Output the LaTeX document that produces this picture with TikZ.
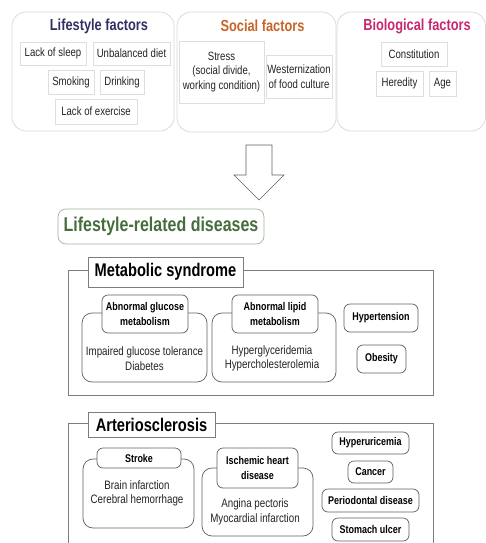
\documentclass[tikz,border=0pt]{standalone}
\usepackage{fontspec}
\setmainfont{Liberation Sans}[FakeStretch=0.8]
\definecolor{navyT}{RGB}{48,48,100}
\definecolor{orangeT}{RGB}{200,100,40}
\definecolor{magT}{RGB}{200,40,110}
\definecolor{greenT}{RGB}{70,110,60}
\definecolor{greenB}{RGB}{160,180,150}
\definecolor{panelgray}{RGB}{215,215,215}
\definecolor{boxgray}{RGB}{222,222,222}
\definecolor{framegray}{RGB}{125,125,125}
\definecolor{dgray}{RGB}{95,95,95}
\definecolor{txt}{RGB}{35,35,35}
\newcommand\fbody{\fontsize{12}{14.5}\selectfont}
\newcommand\fdis{\fontsize{12.2}{14.5}\selectfont}
\newcommand\fttl{\fontsize{16}{18}\selectfont\bfseries}
\newcommand\fbigt{\fontsize{20}{22}\selectfont\bfseries}
\newcommand\fsect{\fontsize{18.3}{20}\selectfont\bfseries}
\newcommand\fhd{\fontsize{11.2}{15}\selectfont\bfseries}
\tikzset{
  panel/.style={draw=panelgray, rounded corners=14pt, line width=0.7pt, inner sep=0pt},
  fbx/.style={draw=boxgray, line width=0.7pt, font=\fbody, text=txt, inner sep=0pt, align=center},
  ttl/.style={font=\fttl, inner sep=0pt},
  secbox/.style={draw=framegray, fill=white, line width=0.7pt, font=\fsect, inner sep=0pt},
  outerbx/.style={draw=dgray, rounded corners=10pt, line width=0.7pt, inner sep=0pt},
  hdbx/.style={draw=dgray, fill=white, rounded corners=6pt, line width=0.7pt, font=\fhd, inner sep=0pt, align=center},
  bodytxt/.style={font=\fdis, text=txt, align=center, inner sep=0pt},
  framel/.style={draw=framegray, line width=0.7pt}
}
\begin{document}
\begin{tikzpicture}[x=1pt,y=-1pt]
\useasboundingbox (0,0) rectangle (486,543);
% panels
\node[panel, minimum width=162, minimum height=119] (p1) at (93,71.5) {};
\node[panel, minimum width=159, minimum height=120] (p2) at (256.5,72) {};
\node[panel, minimum width=148.5, minimum height=119] (p3) at (411.25,71.5) {};
\node[ttl, text=navyT] (t1) at (99,26) {Lifestyle factors};
\node[ttl, text=orangeT] (t2) at (262.5,26) {Social factors};
\node[ttl, text=magT] (t3) at (417,26) {Biological factors};
% lifestyle items
\node[fbx, minimum width=66, minimum height=23] (sleep) at (53,53.5) {Lack of sleep};
\node[fbx, minimum width=77, minimum height=23] (diet) at (131.5,53.5) {Unbalanced diet};
\node[fbx, minimum width=46, minimum height=24] (smoke) at (71,82) {Smoking};
\node[fbx, minimum width=44, minimum height=24] (drink) at (122,82) {Drinking};
\node[fbx, minimum width=82, minimum height=25] (exer) at (96,111.5) {Lack of exercise};
% social items
\node[fbx, minimum width=85, minimum height=62] (stress) at (221.5,72) {Stress\\(social divide,\\working condition)};
\node[fbx, minimum width=66, minimum height=43] (west) at (299,76.5) {Westernization\\of food culture};
% biological items
\node[fbx, minimum width=66, minimum height=24] (const) at (414,54) {Constitution};
\node[fbx, minimum width=47, minimum height=25] (hered) at (399.5,83.5) {Heredity};
\node[fbx, minimum width=27, minimum height=25] (age) at (442.5,83.5) {Age};
% arrow
\draw[draw=dgray, line width=0.6pt, fill=white] (246,145) -- (272,145) -- (272,175) -- (284,175) -- (259,200) -- (234,175) -- (246,175) -- cycle;
% lifestyle-related diseases
\node[draw=greenB, rounded corners=8pt, line width=0.7pt, minimum width=206, minimum height=35, inner sep=0pt, font=\fbigt, text=greenT] (lrd) at (161,226.5) {Lifestyle-related diseases};
% metabolic syndrome
\draw[framel] (68,270) rectangle (433,395);
\node[secbox, minimum width=155, minimum height=30] (ms) at (165.5,272) {Metabolic syndrome};
\node[outerbx, minimum width=125, minimum height=69] (gluO) at (144.5,347.5) {};
\node[hdbx, minimum width=86, minimum height=38] (gluH) at (145,314) {Abnormal glucose\\metabolism};
\node[bodytxt] (gluT) at (144.5,358.5) {Impaired glucose tolerance\\Diabetes};
\node[outerbx, minimum width=124, minimum height=69] (lipO) at (274,347.5) {};
\node[hdbx, minimum width=86, minimum height=38] (lipH) at (275,314) {Abnormal lipid\\metabolism};
\node[bodytxt] (lipT) at (272,358.5) {Hyperglyceridemia\\Hypercholesterolemia};
\node[hdbx, minimum width=74, minimum height=28] (hyp) at (381,318) {Hypertension};
\node[hdbx, minimum width=49, minimum height=28] (obe) at (381.5,359) {Obesity};
% arteriosclerosis
\draw[framel] (68,543) -- (68,423) -- (433,423) -- (433,543);
\node[secbox, minimum width=127, minimum height=25] (as) at (151.5,424.5) {Arteriosclerosis};
\node[outerbx, minimum width=111, minimum height=69] (strO) at (138.5,493.5) {};
\node[hdbx, minimum width=84, minimum height=20] (strH) at (139,458) {Stroke};
\node[bodytxt] (strT) at (137,493.5) {Brain infarction\\Cerebral hemorrhage};
\node[outerbx, minimum width=111, minimum height=68] (ishO) at (257.5,502) {};
\node[hdbx, minimum width=81, minimum height=40] (ishH) at (257.5,468) {Ischemic heart\\disease};
\node[bodytxt] (ishT) at (255,512) {Angina pectoris\\Myocardial infarction};
\node[hdbx, minimum width=77, minimum height=22] (uric) at (370.5,443) {Hyperuricemia};
\node[hdbx, minimum width=45, minimum height=22] (canc) at (370.5,472) {Cancer};
\node[hdbx, minimum width=97, minimum height=23] (perio) at (370.5,500.5) {Periodontal disease};
\node[hdbx, minimum width=77, minimum height=23] (stom) at (370.5,529.5) {Stomach ulcer};
\end{tikzpicture}
\end{document}
